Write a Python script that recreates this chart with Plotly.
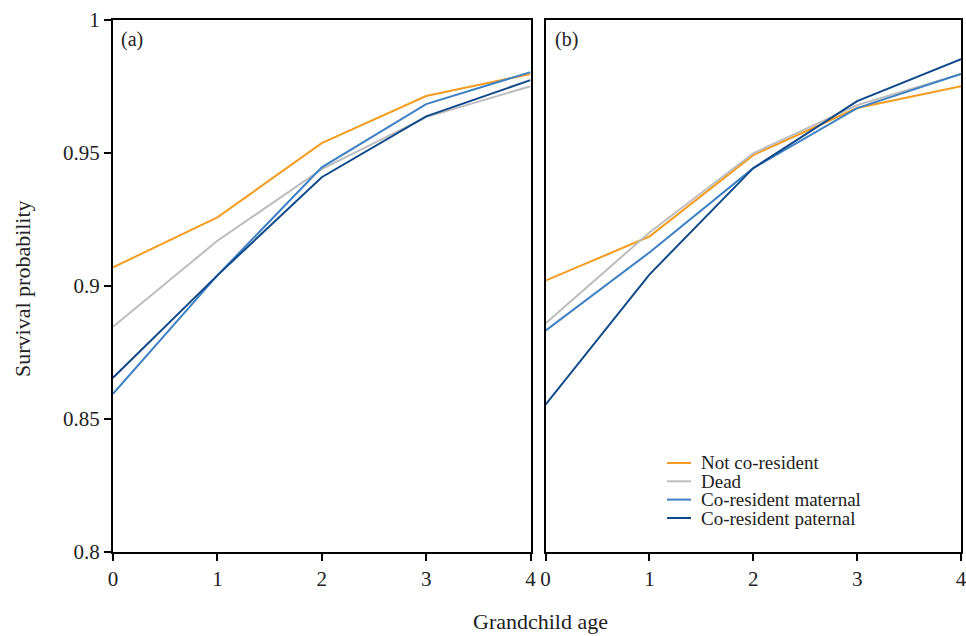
import plotly.graph_objects as go

ages = [0, 1, 2, 3, 4]
series_names = ["Not co-resident", "Dead", "Co-resident maternal", "Co-resident paternal"]
colors = ["#F39C1F", "#BDBDBD", "#3D80C4", "#10498A"]

# Panel (a)
a_not_cores = [0.907, 0.9258, 0.9537, 0.9714, 0.9797]
a_dead = [0.8847, 0.917, 0.9439, 0.9635, 0.9751]
a_maternal = [0.8595, 0.904, 0.9446, 0.9684, 0.9804]
a_paternal = [0.8655, 0.904, 0.9409, 0.9638, 0.9774]

# Panel (b)
b_not_cores = [0.902, 0.9186, 0.9492, 0.9669, 0.9751]
b_dead = [0.8859, 0.9201, 0.9499, 0.968, 0.9797]
b_maternal = [0.8832, 0.9126, 0.9443, 0.9669, 0.9797]
b_paternal = [0.8554, 0.9043, 0.9443, 0.9695, 0.9853]

y_ticks = [0.8, 0.85, 0.9, 0.95, 1.0]
y_tick_labels = ["0.8", "0.85", "0.9", "0.95", "1"]
x_ticks = [0, 1, 2, 3, 4]

FONT = "Liberation Serif"
TXT = "#222222"

W, H = 966, 636
ML, MR, MT, MB = 113, 5, 20, 84
PW, PH = W - ML - MR, H - MT - MB


def px_x(px):
    return (px - ML) / PW


def px_y(py):
    return (H - MB - py) / PH


fig = go.Figure()
panel_a = [a_not_cores, a_dead, a_maternal, a_paternal]
panel_b = [b_not_cores, b_dead, b_maternal, b_paternal]
for name, col, ya in zip(series_names, colors, panel_a):
    fig.add_trace(go.Scatter(x=ages, y=ya, mode="lines", name=name,
                             line=dict(color=col, width=2), showlegend=False,
                             xaxis="x", yaxis="y"))
for name, col, yb in zip(series_names, colors, panel_b):
    fig.add_trace(go.Scatter(x=ages, y=yb, mode="lines", name=name,
                             line=dict(color=col, width=2), showlegend=False,
                             xaxis="x2", yaxis="y2"))

xa_dom = [0, px_x(530.5)]
xb_dom = [px_x(545.5), 1]
y_dom = [0, 1]

axis_common = dict(showgrid=False, zeroline=False, showline=True, linecolor="black",
                   linewidth=2, mirror=True, ticks="outside", ticklen=7, tickwidth=2,
                   tickcolor="black", automargin=False, ticklabeloverflow="allow",
                   tickfont=dict(family=FONT, size=21, color=TXT))

# manual compact legend (entries keyed by series names/colours)
legend_rows_px = [463, 481.3, 499.6, 518]
shapes = []
annotations = []
for name, col, ry in zip(series_names, colors, legend_rows_px):
    shapes.append(dict(type="line", xref="paper", yref="paper",
                       x0=px_x(667), x1=px_x(691), y0=px_y(ry), y1=px_y(ry),
                       line=dict(color=col, width=2)))
    annotations.append(dict(text=name, x=px_x(699), y=px_y(ry), xref="paper", yref="paper",
                            xanchor="left", yanchor="middle", showarrow=False,
                            font=dict(family=FONT, size=19, color=TXT)))

annotations += [
    dict(text="(a)", x=0, y=1, xref="x domain", yref="y domain", xanchor="left",
         yanchor="top", xshift=6, yshift=-6, showarrow=False,
         font=dict(family=FONT, size=20, color=TXT)),
    dict(text="(b)", x=0, y=1, xref="x2 domain", yref="y2 domain", xanchor="left",
         yanchor="top", xshift=7, yshift=-6, showarrow=False,
         font=dict(family=FONT, size=20, color=TXT)),
    dict(text="Survival probability", x=px_x(22), y=px_y(289), xref="paper", yref="paper",
         xanchor="center", yanchor="middle",
         textangle=-90, showarrow=False, font=dict(family=FONT, size=22, color=TXT)),
    dict(text="Grandchild age", x=px_x(540), y=px_y(621), xref="paper", yref="paper",
         xanchor="center", yanchor="middle",
         showarrow=False, font=dict(family=FONT, size=22, color=TXT)),
]

fig.update_layout(
    template="none",
    width=W, height=H,
    margin=dict(l=ML, r=MR, t=MT, b=MB, pad=0),
    plot_bgcolor="white", paper_bgcolor="white",
    font=dict(family=FONT, color=TXT),
    showlegend=False,
    xaxis=dict(domain=xa_dom, range=[0, 4], tickvals=x_ticks, anchor="y", **axis_common),
    yaxis=dict(domain=y_dom, range=[0.8, 1.0], tickvals=y_ticks, ticktext=y_tick_labels,
               anchor="x", **axis_common),
    xaxis2=dict(domain=xb_dom, range=[0, 4], tickvals=x_ticks, anchor="y2", **axis_common),
    yaxis2=dict(domain=y_dom, range=[0.8, 1.0], tickvals=y_ticks, anchor="x2",
                **{**axis_common, "ticks": "", "showticklabels": False}),
    shapes=shapes,
    annotations=annotations,
)

fig.write_html("out.html", config={"displayModeBar": False},
               post_script="document.body.style.margin='0';")
